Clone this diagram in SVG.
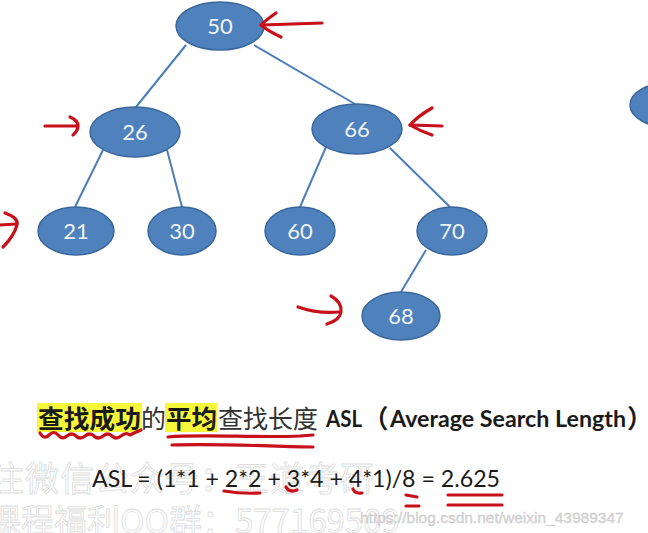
<svg xmlns="http://www.w3.org/2000/svg" width="648" height="533" viewBox="0 0 648 533">
<style>
.node{fill:#4F81BD;stroke:#3A679C;stroke-width:1.5}
.lbl{font-family:Lato,"Open Sans",sans-serif;font-size:22px;fill:#F0F4F9;text-anchor:middle}
.edge{stroke:#4A7EBB;stroke-width:2;fill:none}
.red{stroke:#C8101A;stroke-width:3.2;fill:none;stroke-linecap:round;stroke-linejoin:round}
.wm{font-family:"Noto Sans CJK SC",sans-serif;fill:#ffffff;stroke:#dcdcdc;stroke-width:0.8}
.cjk{font-family:"Noto Sans CJK SC",sans-serif;font-size:25.5px;fill:#333}
.b{font-weight:bold;fill:#1a1a1a}
.lat{font-family:Lato,"Open Sans",sans-serif;font-size:22px;font-weight:bold;fill:#1a1a1a}
.hl{fill:#F7F73A}
</style>
<rect width="648" height="533" fill="#ffffff"/>

<g id="watermark">
<text class="wm" x="-45" y="491" font-size="34" letter-spacing="1">关注微信公众号：王道考研</text>
<text class="wm" x="-12" y="533" font-size="33">课程福利QQ群：577169509</text>
<text x="360" y="523" font-family="Liberation Sans,Arial,sans-serif" font-size="15.5" fill="#d6d6d6" stroke="#c4c4c4" stroke-width="0.3">https://blog.csdn.net/weixin_43989347</text>
</g>

<g id="connectors">
<line class="edge" x1="186" y1="45" x2="136" y2="107"/>
<line class="edge" x1="254" y1="45" x2="355" y2="104"/>
<line class="edge" x1="103" y1="150" x2="75" y2="207"/>
<line class="edge" x1="167" y1="150" x2="182" y2="207"/>
<line class="edge" x1="326" y1="147" x2="300" y2="207"/>
<line class="edge" x1="390" y1="148" x2="450" y2="207"/>
<line class="edge" x1="426" y1="250" x2="401" y2="292"/>
</g>

<g id="n50"><ellipse class="node" cx="220" cy="26" rx="44" ry="24"/><text class="lbl" x="220" y="34">50</text></g>
<g id="n26"><ellipse class="node" cx="135" cy="132" rx="45" ry="25"/><text class="lbl" x="135" y="140">26</text></g>
<g id="n66"><ellipse class="node" cx="357" cy="129" rx="45" ry="25"/><text class="lbl" x="357" y="137">66</text></g>
<g id="n21"><ellipse class="node" cx="76" cy="231" rx="38" ry="24"/><text class="lbl" x="76" y="239">21</text></g>
<g id="n30"><ellipse class="node" cx="182" cy="231" rx="34" ry="24"/><text class="lbl" x="182" y="239">30</text></g>
<g id="n60"><ellipse class="node" cx="300" cy="231" rx="35" ry="24"/><text class="lbl" x="300" y="239">60</text></g>
<g id="n70"><ellipse class="node" cx="452" cy="231" rx="35" ry="24"/><text class="lbl" x="452" y="239">70</text></g>
<g id="n68"><ellipse class="node" cx="401" cy="316" rx="39" ry="24"/><text class="lbl" x="401" y="324">68</text></g>
<g id="npartial"><ellipse class="node" cx="672" cy="105" rx="42" ry="23"/></g>

<g id="red-arrows">
<path class="red" d="M322,23 L262,25"/>
<path class="red" d="M276,13 Q266,20 261,25 Q268,31 281,37"/>
<path class="red" d="M45,126 L77,126"/>
<path class="red" d="M70,117 Q79,121 78,127 Q77,132 73,135"/>
<path class="red" d="M442,126 L410,125"/>
<path class="red" d="M432,108 Q418,116 410,125 Q420,131 432,135"/>
<path class="red" d="M0,225 L16,224"/>
<path class="red" d="M5,213 Q19,218 17,225 Q14,236 3,247"/>
<path class="red" d="M298,307 Q318,314 339,312"/>
<path class="red" d="M331,296 Q342,302 341,312 Q340,320 327,324"/>
</g>

<g id="heading">
<rect class="hl" x="37" y="403" width="105" height="29"/>
<rect class="hl" x="165" y="403" width="52" height="29"/>
<text class="cjk b" x="38" y="428" textLength="103" lengthAdjust="spacingAndGlyphs">查找成功</text>
<text class="cjk" x="141" y="428" textLength="25" lengthAdjust="spacingAndGlyphs">的</text>
<text class="cjk b" x="166" y="428" textLength="51" lengthAdjust="spacingAndGlyphs">平均</text>
<text class="cjk" x="218" y="428" textLength="100" lengthAdjust="spacingAndGlyphs">查找长度</text>
<text class="lat" x="326" y="427" textLength="36" lengthAdjust="spacingAndGlyphs">ASL</text>
<text class="cjk b" x="363" y="428">（</text>
<text class="lat" x="390" y="427" textLength="236" lengthAdjust="spacingAndGlyphs">Average Search Length</text>
<text class="cjk b" x="627" y="428">）</text>
<path class="red" stroke-width="2.6" d="M40,433 Q44,440 49,435 T58,435 T67,436 T76,436 T85,436 T94,436 T103,436 T112,436 T121,436 T130,435 Q136,432 141,430"/>
<path class="red" d="M168,437 C200,434 260,438 300,436 L313,435"/>
<path class="red" stroke-width="2.6" d="M172,445 C220,443 280,447 313,447"/>
</g>

<g id="formula">
<text x="92" y="487" font-family="Lato,'Liberation Sans',sans-serif" font-size="23" fill="#1a1a1a" textLength="408" lengthAdjust="spacingAndGlyphs">ASL = (1*1 + 2*2 + 3*4 + 4*1)/8 = 2.625</text>
<path class="red" d="M224,491 Q242,494 260,493"/>
<path class="red" d="M286,487 Q289,493 297,490"/>
<path class="red" d="M353,489 Q355,494 362,493"/>
<path class="red" stroke-width="5" d="M406,495 L417,497"/>
<path class="red" stroke-width="3" d="M406,506 L419,506"/>
<path class="red" d="M448,495 L502,495"/>
<path class="red" d="M448,505 L502,505"/>
</g>
</svg>
